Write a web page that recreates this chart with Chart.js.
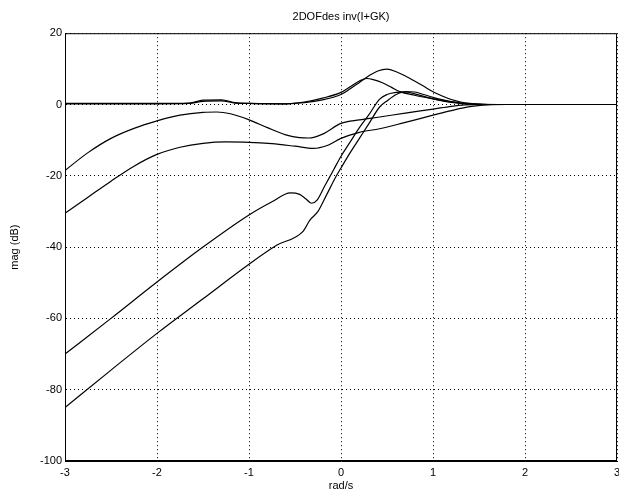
<!DOCTYPE html>
<html>
<head>
<meta charset="utf-8">
<title>2DOFdes inv(I+GK)</title>
<script src="https://cdn.jsdelivr.net/npm/chart.js@4.4.1/dist/chart.umd.min.js"></script>
<style>
  body { margin: 0; background: #fff; }
  #wrap { width: 619px; height: 493px; }
</style>
</head>
<body>
<div id="wrap"><canvas id="chartCanvas" width="619" height="493"></canvas></div>
<script>
// frequency axis is log10(rad/s), magnitudes in dB
const xTicks = [-3, -2, -1, 0, 1, 2, 3];
const yTicks = [20, 0, -20, -40, -60, -80, -100];

// two curves that stay near 0 dB and peak above
const aX = [-3, -2, -1.65, -1.5, -1.3, -1.15, -1, -0.6, -0.4, -0.2, 0, 0.1, 0.2, 0.3, 0.4, 0.5, 0.6, 0.7, 0.8, 0.9, 1.0, 1.1, 1.2, 1.3, 1.4, 1.5, 1.7, 2, 3];
const aY = [0.2, 0.2, 0.3, 0.9, 1.0, 0.4, 0.3, 0.2, 0.5, 1.3, 2.8, 4.4, 6.2, 8.0, 9.4, 9.9, 9.2, 8.0, 6.6, 5.1, 3.6, 2.4, 1.4, 0.7, 0.3, 0.1, 0, 0, 0];

const bX = [-3, -2, -1.65, -1.5, -1.3, -1.15, -1, -0.6, -0.4, -0.2, 0, 0.1, 0.2, 0.28, 0.35, 0.45, 0.55, 0.64, 0.8, 1.0, 1.2, 1.4, 1.6, 2, 3];
const bY = [0.3, 0.3, 0.4, 1.2, 1.3, 0.5, 0.3, 0.2, 0.7, 1.8, 3.4, 5.0, 6.6, 7.3, 7.0, 6.1, 4.8, 3.6, 2.6, 1.6, 0.7, 0.2, 0, 0, 0];

// curve starting near -18 dB
const cX = [-3, -2.75, -2.5, -2.25, -2, -1.75, -1.5, -1.35, -1.2, -1, -0.8, -0.6, -0.45, -0.35, -0.2, 0, 0.2, 0.42, 0.7, 1.0, 1.2, 1.35, 1.5, 2, 3];
const cY = [-18.5, -13.5, -9.5, -6.7, -4.6, -3.0, -2.2, -2.1, -2.6, -4.3, -6.5, -8.5, -9.3, -9.4, -8.3, -5.3, -4.3, -3.5, -2.4, -1.3, -0.5, -0.1, 0, 0, 0];

// curve starting near -30 dB
const dX = [-3, -2.75, -2.5, -2.25, -2, -1.75, -1.5, -1.25, -1, -0.75, -0.5, -0.3, -0.15, 0, 0.2, 0.42, 0.7, 1.0, 1.2, 1.4, 1.6, 1.8, 2, 3];
const dY = [-30.5, -26, -21.5, -17.3, -14, -12, -10.9, -10.5, -10.6, -11.0, -11.7, -12.3, -11.5, -9.5, -7.8, -6.8, -5.0, -3.0, -1.7, -0.6, -0.1, 0, 0, 0];

// curve starting near -70 dB
const eX = [-3, -2.5, -2, -1.5, -1, -0.75, -0.55, -0.45, -0.38, -0.32, -0.26, -0.18, -0.08, 0, 0.1, 0.2, 0.3, 0.42, 0.5, 0.6, 0.7, 0.8, 1.0, 1.2, 1.4, 1.6, 2, 3];
const eY = [-70, -60, -49.8, -40, -31, -27.3, -24.8, -25.2, -26.5, -27.7, -26.8, -23, -18.3, -14.5, -10.5, -6.5, -3.0, 1.5, 2.8, 3.4, 3.5, 3.0, 1.6, 0.6, 0.1, 0, 0, 0];

// curve starting near -85 dB
const fX = [-3, -2.5, -2, -1.5, -1, -0.7, -0.41, -0.34, -0.25, -0.15, -0.05, 0, 0.1, 0.2, 0.3, 0.42, 0.5, 0.6, 0.7, 0.8, 0.9, 1.0, 1.2, 1.4, 1.6, 2, 3];
const fY = [-85, -74.5, -64.2, -54.5, -44.8, -39.5, -35.5, -32.5, -30, -25, -20, -17.8, -13.5, -9.5, -5.5, -0.7, 1.0, 2.8, 3.6, 3.5, 2.8, 2.0, 0.8, 0.2, 0, 0, 0];

function toPoints(xs, ys) {
  return xs.map((x, i) => ({ x: x, y: ys[i] }));
}

function lineSet(xs, ys) {
  return {
    data: toPoints(xs, ys),
    borderColor: '#000',
    borderWidth: 1.2,
    pointRadius: 0,
    fill: false,
    cubicInterpolationMode: 'monotone'
  };
}

const frame = {
  id: 'frame',
  afterDraw(chart) {
    const a = chart.chartArea;
    const ctx = chart.ctx;
    ctx.save();
    ctx.strokeStyle = '#000';
    ctx.lineWidth = 1;
    ctx.strokeRect(a.left + 0.5, a.top + 0.5, a.right - a.left - 1, a.bottom - a.top - 1);
    ctx.restore();
  }
};

const font = { family: "'Liberation Sans', Arial, sans-serif", size: 11 };
const gridStyle = { color: '#000', lineWidth: 1, drawTicks: false };

new Chart(document.getElementById('chartCanvas'), {
  type: 'line',
  data: {
    datasets: [
      lineSet(aX, aY),
      lineSet(bX, bY),
      lineSet(cX, cY),
      lineSet(dX, dY),
      lineSet(eX, eY),
      lineSet(fX, fY)
    ]
  },
  options: {
    responsive: false,
    animation: false,
    events: [],
    layout: { padding: { left: 0, right: 2, top: 0, bottom: 0 } },
    plugins: {
      legend: { display: false },
      tooltip: { enabled: false },
      title: {
        display: true,
        text: '2DOFdes inv(I+GK)',
        color: '#000',
        fullSize: false,
        font: { family: font.family, size: 11, weight: 'normal' },
        padding: { top: 10, bottom: 10 }
      }
    },
    scales: {
      x: {
        type: 'linear',
        min: xTicks[0],
        max: xTicks[xTicks.length - 1],
        afterBuildTicks: s => { s.ticks = xTicks.map(v => ({ value: v })); },
        afterFit: s => { s.height = 32; s.paddingLeft = 0; s.paddingRight = 0; },
        grid: gridStyle,
        border: { display: true, color: '#000', dash: [1, 3] },
        ticks: { color: '#000', font: font, padding: 5, maxRotation: 0 },
        title: { display: true, text: 'rad/s', color: '#000', font: font, padding: { top: 0, bottom: 0 } }
      },
      y: {
        type: 'linear',
        min: yTicks[yTicks.length - 1],
        max: yTicks[0],
        afterBuildTicks: s => { s.ticks = yTicks.map(v => ({ value: v })); },
        afterFit: s => { s.width = 65; s.paddingTop = 0; s.paddingBottom = 0; },
        grid: gridStyle,
        border: { display: true, color: '#000', dash: [1, 3] },
        ticks: { color: '#000', font: font, padding: 3 },
        title: { display: true, text: 'mag (dB)', color: '#000', font: font, padding: { top: 8, bottom: 0 } }
      }
    }
  },
  plugins: [frame]
});
</script>
</body>
</html>
